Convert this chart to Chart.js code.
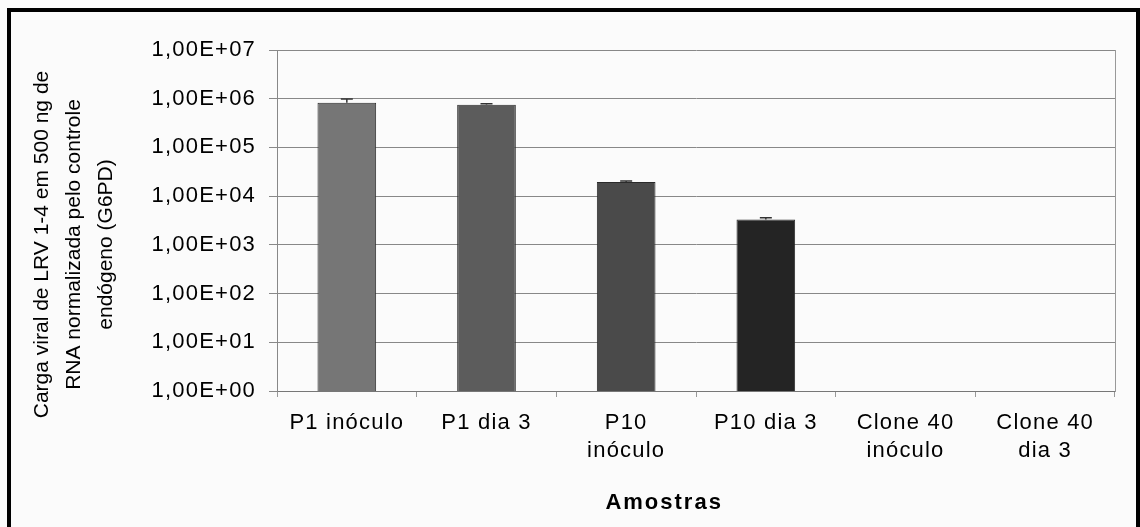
<!DOCTYPE html>
<html>
<head>
<meta charset="utf-8">
<script src="https://cdn.jsdelivr.net/npm/chart.js@4/dist/chart.umd.min.js"></script>
<style>
    html, body { margin: 0; padding: 0; background: #fbfbfb; }
    #wrap { position: relative; width: 1140px; height: 527px; }
    #frame {
        position: absolute; left: 7px; top: 8px; width: 1125px; height: 521px;
        border: 4px solid #000; border-bottom-width: 3px; pointer-events: none;
    }
</style>
</head>
<body>
<div id="wrap">
    <canvas id="chart" width="1140" height="527"></canvas>
    <div id="frame"></div>
</div>
<script>
// Viral load chart (log scale)

const categories = [
    ['P1 inóculo'],
    ['P1 dia 3'],
    ['P10', 'inóculo'],
    ['P10 dia 3'],
    ['Clone 40', 'inóculo'],
    ['Clone 40', 'dia 3']
];
const viralLoad = [8.3e5, 7.5e5, 1.95e4, 3.3e3, null, null];
const errorUp = [1.6e5, 0.4e5, 1.0e3, 3.0e2, null, null];
const barColors = ['#767676', '#5c5c5c', '#4a4a4a', '#242424', '#444', '#444'];
const yTicks = [1, 10, 100, 1e3, 1e4, 1e5, 1e6, 1e7];
const yTickLabels = ['1,00E+00', '1,00E+01', '1,00E+02', '1,00E+03', '1,00E+04', '1,00E+05', '1,00E+06', '1,00E+07'];
const yTitle = ['Carga viral de LRV 1-4 em 500 ng de', 'RNA normalizada pelo controle', 'endógeno (G6PD)'];
const xTitle = 'Amostras';

const FONT = 'Liberation Sans, Arial, sans-serif';

// the scanned original has slightly spread-out lettering
const spacing = {
    id: 'spacing',
    beforeDraw(chart) { chart.ctx.letterSpacing = '1.2px'; }
};

// small error bar caps on top of the bars
const errorBars = {
    id: 'errorBars',
    afterDatasetsDraw(chart) {
        const ctx = chart.ctx;
        const meta = chart.getDatasetMeta(0);
        const y = chart.scales.y;
        ctx.save();
        ctx.strokeStyle = '#333';
        ctx.lineWidth = 1.5;
        meta.data.forEach((bar, i) => {
            if (viralLoad[i] == null || errorUp[i] == null) return;
            const top = y.getPixelForValue(viralLoad[i] + errorUp[i]);
            ctx.beginPath();
            ctx.moveTo(bar.x, bar.y);
            ctx.lineTo(bar.x, top);
            ctx.moveTo(bar.x - 6, top);
            ctx.lineTo(bar.x + 6, top);
            ctx.stroke();
        });
        ctx.restore();
    }
};

// axis titles, placed like the Excel original (a bit off the plot centre)
const axisTitles = {
    id: 'axisTitles',
    afterDraw(chart) {
        const { ctx, chartArea: a } = chart;
        ctx.save();
        ctx.fillStyle = '#000';
        ctx.textAlign = 'center';
        ctx.textBaseline = 'middle';

        ctx.letterSpacing = '0px';
        ctx.font = '21px ' + FONT;
        const cy = (a.top + a.bottom) / 2 + 24;
        yTitle.forEach((line, i) => {
            ctx.save();
            ctx.translate(42 + i * 32, cy);
            ctx.rotate(-Math.PI / 2);
            ctx.fillText(line, 0, 0);
            ctx.restore();
        });

        ctx.letterSpacing = '2px';
        ctx.font = 'bold 22px ' + FONT;
        ctx.fillText(xTitle, a.left + (a.right - a.left) * 0.462, 503);
        ctx.restore();
    }
};

new Chart(document.getElementById('chart'), {
    type: 'bar',
    data: {
        labels: categories,
        datasets: [{
            data: viralLoad,
            backgroundColor: barColors,
            borderColor: '#2a2a2a',
            borderWidth: 1,
            barPercentage: 0.42,
            categoryPercentage: 1
        }]
    },
    options: {
        responsive: false,
        animation: false,
        layout: { padding: { left: 12, right: 25, top: 50, bottom: 0 } },
        plugins: { legend: { display: false }, tooltip: { enabled: false } },
        scales: {
            x: {
                grid: { offset: true, drawOnChartArea: false, drawTicks: true, tickLength: 6, color: '#999' },
                border: { color: '#777' },
                ticks: {
                    color: '#000', padding: 12, maxRotation: 0, autoSkip: false,
                    font: { family: FONT, size: 22, lineHeight: 1.27 }
                },
                afterFit(s) { s.height = 136; }
            },
            y: {
                type: 'logarithmic',
                min: 1,
                max: 1e7,
                afterBuildTicks(s) { s.ticks = yTicks.map(v => ({ value: v })); },
                grid: { color: '#888', tickLength: 8 },
                border: { color: '#888' },
                ticks: {
                    color: '#000', padding: 13,
                    font: { family: FONT, size: 22 },
                    callback: (v) => yTickLabels[yTicks.indexOf(v)]
                },
                afterFit(s) { s.width = 265; }
            },
            y2: {
                position: 'right',
                display: true,
                grid: { drawOnChartArea: false, drawTicks: false },
                border: { color: '#999' },
                ticks: { display: false },
                afterFit(s) { s.width = 0; }
            }
        }
    },
    plugins: [spacing, errorBars, axisTitles]
});
</script>
</body>
</html>
